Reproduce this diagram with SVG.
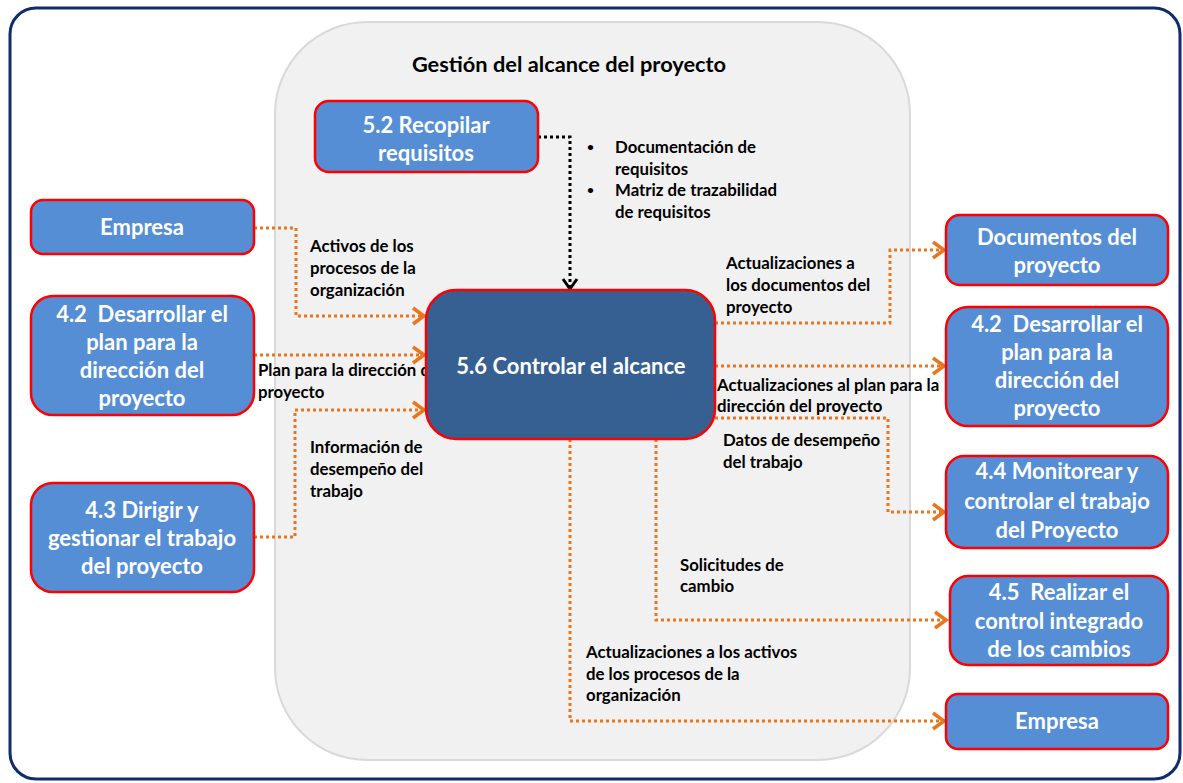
<svg xmlns="http://www.w3.org/2000/svg" width="1183" height="783" viewBox="0 0 1183 783">
  <defs>
    <marker id="arrOrange" markerUnits="userSpaceOnUse" markerWidth="18" markerHeight="20" viewBox="0 0 18 20" refX="15" refY="10" orient="auto">
      <path d="M4,2 L15,10 L4,18" fill="none" stroke="#E8761E" stroke-width="3.5"/>
    </marker>
    <marker id="arrBlack" markerUnits="userSpaceOnUse" markerWidth="16" markerHeight="18" viewBox="0 0 16 18" refX="13" refY="9" orient="auto">
      <path d="M3,2 L13,9 L3,16" fill="none" stroke="#000" stroke-width="3"/>
    </marker>
    <style>
      .node { fill: #558ED5; stroke: #FF0000; stroke-width: 2.5; }
      .core { fill: #376092; stroke: #FF0000; stroke-width: 2.5; }
      .ntext { font-family: Lato, "Liberation Sans", sans-serif; font-weight: bold; font-size: 22px; fill: #FFFFFF; text-anchor: middle; }
      .lbl { font-family: Lato, "Liberation Sans", sans-serif; font-weight: bold; font-size: 16.8px; fill: #000; }
      .dot { font-family: Lato, "Liberation Sans", sans-serif; font-weight: bold; font-size: 12px; fill: #000; }
      .flow { fill: none; stroke: #E8761E; stroke-width: 3; stroke-dasharray: 3 3; marker-end: url(#arrOrange); }
      .flowK { fill: none; stroke: #000; stroke-width: 3; stroke-dasharray: 3 3; marker-end: url(#arrBlack); }
    </style>
  </defs>

  <!-- page frame -->
  <rect x="0" y="0" width="1183" height="783" fill="#FFFFFF"/>
  <rect x="10" y="8" width="1170" height="771" rx="26" fill="#FFFFFF" stroke="#0F2D6B" stroke-width="3"/>

  <!-- scope management boundary -->
  <g id="boundary">
    <rect x="275" y="22" width="635" height="738" rx="92" fill="#F1F1F1" stroke="#D9D9D9" stroke-width="2"/>
    <text x="569" y="72" class="lbl" style="font-size:21.8px" text-anchor="middle">Gestión del alcance del proyecto</text>
  </g>

  <!-- flow labels -->
  <g id="labels">
    <text class="lbl" x="310" y="252">Activos de los</text>
    <text class="lbl" x="310" y="274">procesos de la</text>
    <text class="lbl" x="310" y="296">organización</text>

    <text class="lbl" x="258" y="376">Plan para la dirección del</text>
    <text class="lbl" x="258" y="398">proyecto</text>

    <text class="lbl" x="310" y="453">Información de</text>
    <text class="lbl" x="310" y="475">desempeño del</text>
    <text class="lbl" x="310" y="497">trabajo</text>

    <text class="dot" x="587" y="151">•</text>
    <text class="lbl" x="615" y="153">Documentación de</text>
    <text class="lbl" x="615" y="175">requisitos</text>
    <text class="dot" x="587" y="194">•</text>
    <text class="lbl" x="615" y="196">Matriz de trazabilidad</text>
    <text class="lbl" x="615" y="218">de requisitos</text>

    <text class="lbl" x="726" y="269">Actualizaciones a</text>
    <text class="lbl" x="726" y="291">los documentos del</text>
    <text class="lbl" x="726" y="313">proyecto</text>

    <text class="lbl" x="717" y="391">Actualizaciones al plan para la</text>
    <text class="lbl" x="717" y="412">dirección del proyecto</text>

    <text class="lbl" x="723" y="446">Datos de desempeño</text>
    <text class="lbl" x="723" y="468">del trabajo</text>

    <text class="lbl" x="680" y="571">Solicitudes de</text>
    <text class="lbl" x="680" y="592">cambio</text>

    <text class="lbl" x="586" y="658">Actualizaciones a los activos</text>
    <text class="lbl" x="586" y="680">de los procesos de la</text>
    <text class="lbl" x="586" y="701">organización</text>
  </g>

  <!-- connectors -->
  <g id="connectors">
    <path class="flow" d="M254,228 H296 V316 H424"/>
    <path class="flow" d="M254,355 H424"/>
    <path class="flow" d="M254,537 H295 V410 H424"/>
    <path class="flowK" d="M538,137 H570 V289"/>
    <path class="flow" d="M715,323 H890 V250 H944"/>
    <path class="flow" d="M715,366 H944"/>
    <path class="flow" d="M715,418 H888 V512 H944"/>
    <path class="flow" d="M656,439 V620 H946"/>
    <path class="flow" d="M570,439 V721 H944"/>
  </g>

  <!-- process nodes -->
  <g id="n52">
    <rect class="node" x="315" y="101" width="223" height="71" rx="14"/>
    <text class="ntext" x="426" y="133">5.2 Recopilar</text>
    <text class="ntext" x="426" y="161">requisitos</text>
  </g>
  <g id="empresaIn">
    <rect class="node" x="31" y="200" width="223" height="54" rx="12"/>
    <text class="ntext" x="142" y="235">Empresa</text>
  </g>
  <g id="n42in">
    <rect class="node" x="31" y="296" width="223" height="119" rx="22"/>
    <text class="ntext" x="142" y="322">4.2&#160; Desarrollar el</text>
    <text class="ntext" x="142" y="350">plan para la</text>
    <text class="ntext" x="142" y="378">dirección del</text>
    <text class="ntext" x="142" y="406">proyecto</text>
  </g>
  <g id="n43">
    <rect class="node" x="31" y="483" width="223" height="109" rx="22"/>
    <text class="ntext" x="142" y="518">4.3 Dirigir y</text>
    <text class="ntext" x="142" y="546">gestionar el trabajo</text>
    <text class="ntext" x="142" y="574">del proyecto</text>
  </g>
  <g id="n56">
    <rect class="core" x="426" y="290" width="289" height="149" rx="30"/>
    <text class="ntext" x="571" y="374">5.6 Controlar el alcance</text>
  </g>
  <g id="docs">
    <rect class="node" x="946" y="215" width="222" height="70" rx="14"/>
    <text class="ntext" x="1057" y="245">Documentos del</text>
    <text class="ntext" x="1057" y="273">proyecto</text>
  </g>
  <g id="n42out">
    <rect class="node" x="946" y="307" width="222" height="119" rx="22"/>
    <text class="ntext" x="1057" y="332">4.2&#160; Desarrollar el</text>
    <text class="ntext" x="1057" y="360">plan para la</text>
    <text class="ntext" x="1057" y="388">dirección del</text>
    <text class="ntext" x="1057" y="416">proyecto</text>
  </g>
  <g id="n44">
    <rect class="node" x="946" y="456" width="222" height="92" rx="18"/>
    <text class="ntext" x="1057" y="479">4.4 Monitorear y</text>
    <text class="ntext" x="1057" y="509">controlar el trabajo</text>
    <text class="ntext" x="1057" y="538">del Proyecto</text>
  </g>
  <g id="n45">
    <rect class="node" x="950" y="576" width="218" height="89" rx="18"/>
    <text class="ntext" x="1059" y="600">4.5&#160; Realizar el</text>
    <text class="ntext" x="1059" y="629">control integrado</text>
    <text class="ntext" x="1059" y="657">de los cambios</text>
  </g>
  <g id="empresaOut">
    <rect class="node" x="946" y="694" width="222" height="55" rx="12"/>
    <text class="ntext" x="1057" y="729">Empresa</text>
  </g>
</svg>
